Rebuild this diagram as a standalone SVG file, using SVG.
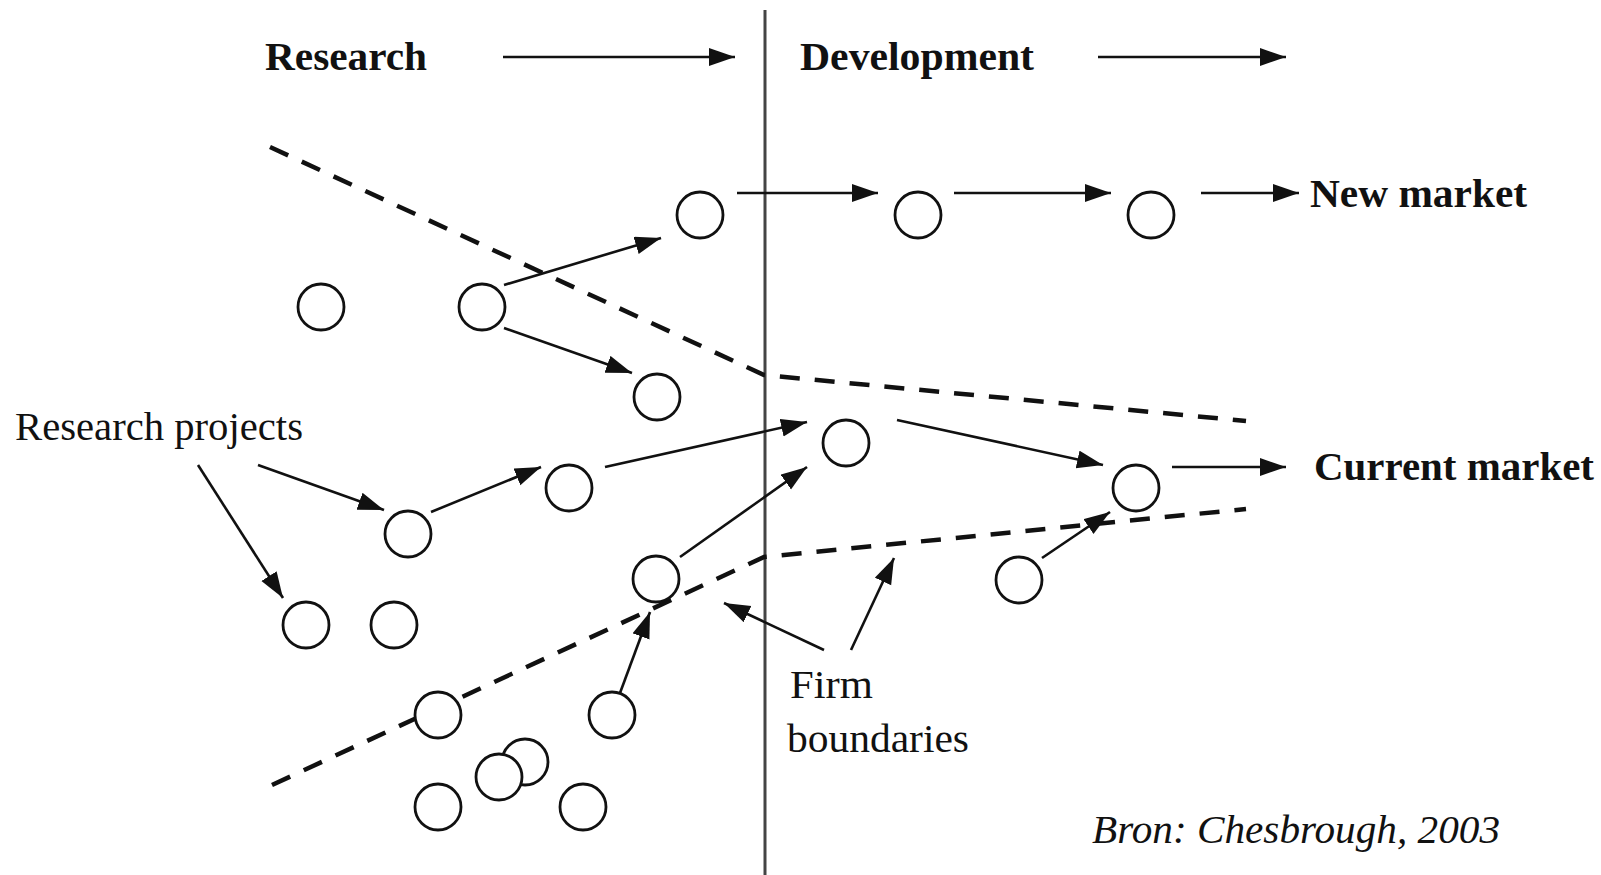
<svg xmlns="http://www.w3.org/2000/svg" width="1601" height="875" viewBox="0 0 1601 875">
<style>
.n{fill:#fff;stroke:#111;stroke-width:2.8}
.c{stroke:#111;stroke-width:2.6;fill:none;marker-end:url(#ah)}
.d{stroke:#111;stroke-width:4.5;fill:none;stroke-dasharray:20 15}
.b{font-family:"Liberation Serif",serif;font-weight:bold;font-size:40px;fill:#111}
.r{font-family:"Liberation Serif",serif;font-size:40px;fill:#111}
.i{font-family:"Liberation Serif",serif;font-style:italic;font-size:40px;fill:#111}
</style>
<defs>
<marker id="ah" markerUnits="userSpaceOnUse" markerWidth="28" markerHeight="20" refX="26" refY="9" orient="auto">
<path d="M0,0 L26,9 L0,18 z" fill="#111"/>
</marker>
</defs>
<rect width="1601" height="875" fill="#fff"/>
<line x1="765" y1="10" x2="765" y2="875" stroke="#444" stroke-width="3"/>
<g id="boundaries">
<polyline class="d" points="270,147 764,375 1246,421"/>
<polyline class="d" points="272,785 764,557 1246,509"/>
</g>
<g id="connectors">
<line class="c" x1="503" y1="57" x2="735" y2="57"/>
<line class="c" x1="1098" y1="57" x2="1286" y2="57"/>
<line class="c" x1="737" y1="193" x2="878" y2="193"/>
<line class="c" x1="954" y1="193" x2="1111" y2="193"/>
<line class="c" x1="1201" y1="193" x2="1299" y2="193"/>
<line class="c" x1="504" y1="285" x2="661" y2="238"/>
<line class="c" x1="504" y1="328" x2="632" y2="373"/>
<line class="c" x1="258" y1="465" x2="384" y2="510"/>
<line class="c" x1="198" y1="465" x2="283" y2="598"/>
<line class="c" x1="431" y1="512" x2="541" y2="467"/>
<line class="c" x1="605" y1="467" x2="807" y2="422"/>
<line class="c" x1="680" y1="557" x2="807" y2="467"/>
<line class="c" x1="897" y1="420" x2="1103" y2="465"/>
<line class="c" x1="1172" y1="467" x2="1286" y2="467"/>
<line class="c" x1="1042" y1="558" x2="1110" y2="512"/>
<line class="c" x1="620" y1="693" x2="650" y2="612"/>
<line class="c" x1="824" y1="650" x2="724" y2="603"/>
<line class="c" x1="851" y1="650" x2="894" y2="558"/>
</g>
<g id="p1"><circle class="n" cx="700" cy="215" r="23"/></g>
<g id="p2"><circle class="n" cx="918" cy="215" r="23"/></g>
<g id="p3"><circle class="n" cx="1151" cy="215" r="23"/></g>
<g id="p4"><circle class="n" cx="321" cy="307" r="23"/></g>
<g id="p5"><circle class="n" cx="482" cy="307" r="23"/></g>
<g id="p6"><circle class="n" cx="657" cy="397" r="23"/></g>
<g id="p7"><circle class="n" cx="846" cy="443" r="23"/></g>
<g id="p8"><circle class="n" cx="569" cy="488" r="23"/></g>
<g id="p9"><circle class="n" cx="408" cy="534" r="23"/></g>
<g id="p10"><circle class="n" cx="1136" cy="488" r="23"/></g>
<g id="p11"><circle class="n" cx="656" cy="579" r="23"/></g>
<g id="p12"><circle class="n" cx="1019" cy="580" r="23"/></g>
<g id="p13"><circle class="n" cx="306" cy="625" r="23"/></g>
<g id="p14"><circle class="n" cx="394" cy="625" r="23"/></g>
<g id="p15"><circle class="n" cx="438" cy="715" r="23"/></g>
<g id="p16"><circle class="n" cx="612" cy="715" r="23"/></g>
<g id="p17"><circle class="n" cx="525" cy="762" r="23"/></g>
<g id="p18"><circle class="n" cx="499" cy="777" r="23"/></g>
<g id="p19"><circle class="n" cx="438" cy="807" r="23"/></g>
<g id="p20"><circle class="n" cx="583" cy="807" r="23"/></g>
<g id="t-research"><text class="b" x="265" y="70" textLength="162" lengthAdjust="spacingAndGlyphs">Research</text></g>
<g id="t-development"><text class="b" x="800" y="70" textLength="234" lengthAdjust="spacingAndGlyphs">Development</text></g>
<g id="t-newmarket"><text class="b" x="1310" y="207" textLength="217" lengthAdjust="spacingAndGlyphs">New market</text></g>
<g id="t-currentmarket"><text class="b" x="1314" y="480" textLength="280" lengthAdjust="spacingAndGlyphs">Current market</text></g>
<g id="t-projects"><text class="r" x="15" y="440" textLength="288" lengthAdjust="spacingAndGlyphs">Research projects</text></g>
<g id="t-firm"><text class="r" x="790" y="698" textLength="83" lengthAdjust="spacingAndGlyphs">Firm</text><text class="r" x="787" y="752" textLength="182" lengthAdjust="spacingAndGlyphs">boundaries</text></g>
<g id="t-source"><text class="i" x="1092" y="843" textLength="408" lengthAdjust="spacingAndGlyphs">Bron:  Chesbrough, 2003</text></g>
</svg>
